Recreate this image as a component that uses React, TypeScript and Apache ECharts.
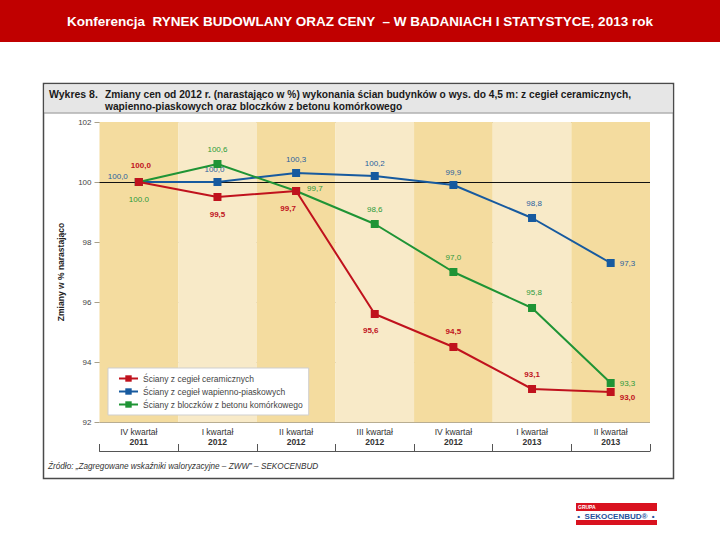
import React, { useEffect, useRef } from "react";
import * as echarts from "echarts";

const quarters = ["IV kwartał", "I kwartał", "II kwartał", "III kwartał", "IV kwartał", "I kwartał", "II kwartał"];
const years = ["2011", "2012", "2012", "2012", "2012", "2013", "2013"];

const seriesNames = [
  "Ściany z cegieł ceramicznych",
  "Ściany z cegieł wapienno-piaskowych",
  "Ściany z bloczków z betonu komórkowego",
];

const ceramic = [100.0, 99.5, 99.7, 95.6, 94.5, 93.1, 93.0];
const limeSand = [100.0, 100.0, 100.3, 100.2, 99.9, 98.8, 97.3];
const aerated = [100.0, 100.6, 99.7, 98.6, 97.0, 95.8, 93.3];

const ceramicLabels = ["100,0", "99,5", "99,7", "95,6", "94,5", "93,1", "93,0"];
const limeSandLabels = ["100,0", "100,0", "100,3", "100,2", "99,9", "98,8", "97,3"];
const aeratedLabels = ["100.0", "100,6", "99,7", "98,6", "97,0", "95,8", "93,3"];

const yTicks = { min: 92, max: 102, step: 2 };

const FONT = "'Liberation Sans', Arial, sans-serif";

const RED = "#c0121d";
const BLUE = "#175a9f";
const GREEN = "#1f9435";

type Pos = [string, number, number];

const ceramicPos: Pos[] = [
  ["top", 2, -4],
  ["bottom", 0, 4],
  ["bottom", -8, 4],
  ["bottom", -4, 3],
  ["top", 0, -3],
  ["top", 0, -2],
  ["right", 0, 5],
];
const limeSandPos: Pos[] = [
  ["left", -2, -6],
  ["top", -3, 0],
  ["top", 0, -1],
  ["top", 0, 0],
  ["top", 0, 0],
  ["top", 2, -2],
  ["right", 0, 0],
];
const aeratedPos: Pos[] = [
  ["bottom", 0, 4],
  ["top", 0, -2],
  ["right", 2, -3],
  ["top", 0, -2],
  ["top", 0, -2],
  ["top", 2, -3],
  ["right", 0, 0],
];

function buildData(values: number[], labels: string[], pos: Pos[], color: string, bold: boolean) {
  return values.map((v, i) => ({
    value: v,
    label: {
      show: true,
      position: pos[i][0],
      offset: [pos[i][1], pos[i][2]],
      formatter: labels[i],
      color,
      fontSize: 8,
      fontWeight: bold ? "bold" : "normal",
      fontFamily: FONT,
      distance: 5,
    },
  }));
}

export default function App() {
  const ref = useRef<HTMLDivElement>(null);

  useEffect(() => {
    if (!ref.current) return;
    const chart = echarts.init(ref.current, null, { renderer: "svg" });
    const catLabels = quarters.map((q, i) => `{a|${q}}\n{b|${years[i]}}`);

    const lineSeries = (name: string, data: any[], color: string, extra: any = {}) => ({
      name,
      type: "line",
      data,
      symbol: "rect",
      symbolSize: 8,
      color,
      lineStyle: { color, width: 2 },
      itemStyle: { color },
      z: 3,
      ...extra,
    });

    chart.setOption({
      animation: false,
      backgroundColor: "#ffffff",
      textStyle: { fontFamily: FONT },
      graphic: [
        { type: "rect", shape: { x: 0, y: 0, width: 720, height: 42 }, style: { fill: "#c00000" }, z: 0 },
        {
          type: "text",
          x: 360,
          y: 21,
          style: {
            text: "Konferencja  RYNEK BUDOWLANY ORAZ CENY  – W BADANIACH I STATYSTYCE, 2013 rok",
            fill: "#ffffff",
            font: `bold 13.5px ${FONT}`,
            align: "center",
            verticalAlign: "middle",
          },
          z: 1,
        },
        {
          type: "rect",
          shape: { x: 43.5, y: 83.5, width: 630, height: 395 },
          style: { fill: "#ffffff", stroke: "#4a4a4a", lineWidth: 1.5 },
          z: -10,
        },
        {
          type: "rect",
          shape: { x: 44.5, y: 84.5, width: 628, height: 28 },
          style: { fill: "#e6e6e6", lineWidth: 0 },
          z: -9,
        },
        {
          type: "line",
          shape: { x1: 44, y1: 113, x2: 673, y2: 113 },
          style: { stroke: "#8a8a8a", lineWidth: 1 },
          z: -9,
        },
        {
          type: "text",
          x: 49,
          y: 94,
          style: { text: "Wykres 8.", fill: "#1a1a1a", font: `bold 10.5px ${FONT}`, verticalAlign: "middle" },
        },
        {
          type: "text",
          x: 105,
          y: 94,
          style: {
            text: "Zmiany cen od 2012 r. (narastająco w %) wykonania ścian budynków o wys. do 4,5 m: z cegieł ceramicznych,",
            fill: "#1a1a1a",
            font: `bold 10.2px ${FONT}`,
            verticalAlign: "middle",
          },
        },
        {
          type: "text",
          x: 105,
          y: 106,
          style: {
            text: "wapienno-piaskowych oraz bloczków z betonu komórkowego",
            fill: "#1a1a1a",
            font: `bold 10.2px ${FONT}`,
            verticalAlign: "middle",
          },
        },
        {
          type: "text",
          x: 48,
          y: 466,
          style: {
            text: "Źródło: „Zagregowane wskaźniki waloryzacyjne – ZWW” – SEKOCENBUD",
            fill: "#333333",
            font: `italic 8.2px ${FONT}`,
            verticalAlign: "middle",
          },
        },
        { type: "rect", shape: { x: 576, y: 503, width: 81, height: 8 }, style: { fill: "#d9121f" } },
        {
          type: "text",
          x: 578,
          y: 507,
          style: { text: "GRUPA", fill: "#ffffff", font: `bold 5px ${FONT}`, verticalAlign: "middle" },
        },
        {
          type: "text",
          x: 616,
          y: 516,
          style: {
            text: "•  SEKOCENBUD®  •",
            fill: "#24509c",
            font: `bold 8px ${FONT}`,
            align: "center",
            verticalAlign: "middle",
          },
        },
        { type: "rect", shape: { x: 576, y: 520, width: 81, height: 5 }, style: { fill: "#d9121f" } },
      ],
      legend: {
        orient: "vertical",
        left: 108,
        top: 368,
        backgroundColor: "#ffffff",
        borderColor: "#cfcfcf",
        borderWidth: 1,
        padding: [6, 6, 6, 10],
        itemGap: 4,
        itemWidth: 19,
        itemHeight: 8,
        textStyle: { fontSize: 8.5, color: "#444444", fontFamily: FONT },
        data: seriesNames,
      },
      grid: { left: 99.5, right: 70, top: 122, bottom: 118, containLabel: false },
      xAxis: [
        {
          type: "category",
          data: catLabels,
          boundaryGap: true,
          axisLine: { show: false },
          axisTick: { show: false },
          splitLine: { show: false },
          splitArea: { show: true, interval: 0, areaStyle: { color: ["#f4dc9f", "#f8eac8"] } },
          axisLabel: {
            interval: 0,
            margin: 5,
            rich: {
              a: { fontSize: 8.5, color: "#333333", fontFamily: FONT, lineHeight: 10 },
              b: { fontSize: 8.5, color: "#333333", fontWeight: "bold", fontFamily: FONT, lineHeight: 10 },
            },
          },
        },
        {
          type: "category",
          data: catLabels,
          position: "bottom",
          offset: 29,
          boundaryGap: true,
          axisLine: { show: true, lineStyle: { color: "#555555", width: 1 } },
          axisTick: { show: true, inside: true, length: 7, interval: 0, lineStyle: { color: "#555555" } },
          axisLabel: { show: false },
          splitLine: { show: false },
          splitArea: { show: false },
        },
      ],
      yAxis: {
        type: "value",
        min: yTicks.min,
        max: yTicks.max,
        interval: yTicks.step,
        name: "Zmiany w % narastająco",
        nameLocation: "middle",
        nameGap: 34,
        nameTextStyle: { fontSize: 8.5, fontWeight: "bold", color: "#222222", fontFamily: FONT },
        axisLine: { show: false },
        axisTick: { show: true, length: 5, lineStyle: { color: "#a8a08a" } },
        axisLabel: { fontSize: 8, color: "#444444", margin: 8, fontFamily: FONT },
        splitLine: { show: true, lineStyle: { color: "#b8ad92", width: 1 } },
      },
      series: [
        lineSeries(seriesNames[0], buildData(ceramic, ceramicLabels, ceramicPos, RED, true), RED, { z: 5 }),
        lineSeries(seriesNames[1], buildData(limeSand, limeSandLabels, limeSandPos, "#2a5f9e", false), BLUE, {
          z: 3,
          markLine: {
            silent: true,
            symbol: ["none", "none"],
            label: { show: false },
            lineStyle: { color: "#111111", width: 1.2, type: "solid" },
            data: [{ yAxis: 100 }],
            z: 2,
          },
        }),
        lineSeries(seriesNames[2], buildData(aerated, aeratedLabels, aeratedPos, "#2b9a3a", false), GREEN, { z: 4 }),
      ],
    });

    return () => chart.dispose();
  }, []);

  return (
    <div
      ref={ref}
      style={{ position: "fixed", left: 0, top: 0, width: 720, height: 540, background: "#ffffff" }}
    />
  );
}
